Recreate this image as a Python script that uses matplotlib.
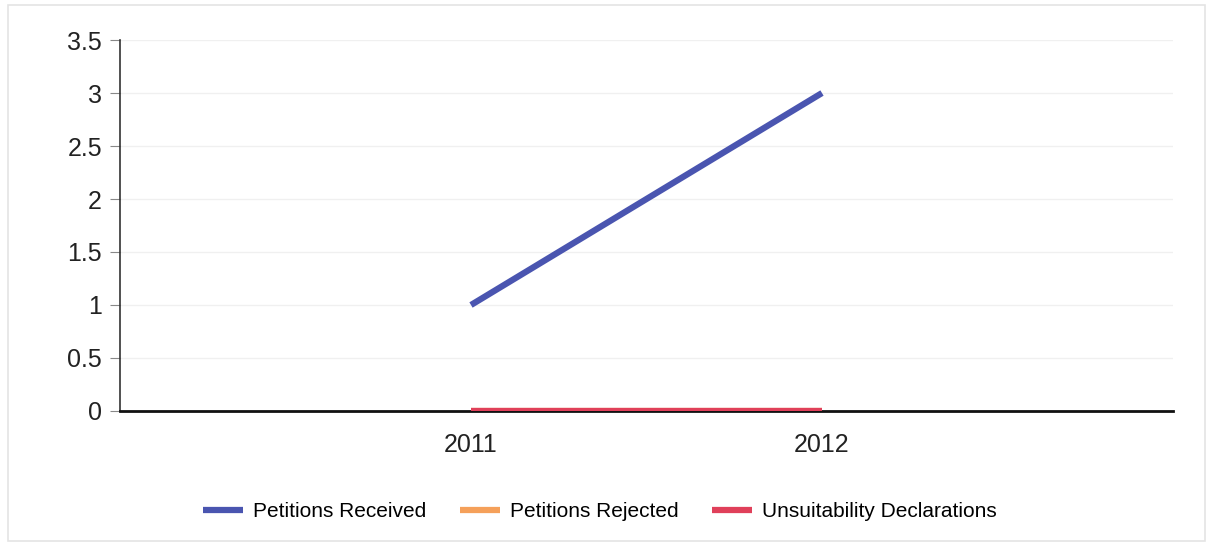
import matplotlib.pyplot as plt
from matplotlib.patches import Rectangle

plt.rcParams['font.family'] = ['Liberation Sans', 'DejaVu Sans']

years = ["2011", "2012"]
received = [1, 3]
rejected = [0, 0]
unsuitable = [0, 0]

fig = plt.figure(figsize=(12.11, 5.46), dpi=100)
ax = fig.add_axes([0.0991, 0.2473, 0.8695, 0.6794])

# faint frame around the whole chart area
fig.patches.append(Rectangle((0.007, 0.01), 0.988, 0.98, transform=fig.transFigure,
                             fill=False, edgecolor='#e4e4e4', linewidth=1.2))

xs = range(len(years))
ax.plot(xs, received, color='#4a55b0', linewidth=4.5, solid_capstyle='butt',
        label='Petitions Received', zorder=3)
ax.plot(xs, rejected, color='#f5a05a', linewidth=4.5, solid_capstyle='butt',
        label='Petitions Rejected', zorder=3)
ax.plot(xs, unsuitable, color='#e0405a', linewidth=4.5, solid_capstyle='butt',
        label='Unsuitability Declarations', zorder=4)

ax.set_xlim(-1, 2)
ax.set_ylim(0, 3.5)
ax.set_xticks(list(xs))
ax.set_xticklabels(years)
ax.set_yticks([0, 0.5, 1, 1.5, 2, 2.5, 3, 3.5])
ax.set_yticklabels(['0', '0.5', '1', '1.5', '2', '2.5', '3', '3.5'])
ax.tick_params(axis='x', length=0, labelsize=18, pad=16, colors='#222222')
ax.tick_params(axis='y', length=7, width=0.8, color='#888888', labelsize=18,
               pad=6, labelcolor='#222222')

ax.grid(axis='y', color='#f0f0f0', linewidth=1)
ax.set_axisbelow(True)
for side in ['top', 'right']:
    ax.spines[side].set_visible(False)
ax.spines['left'].set_color('#333333')
ax.spines['left'].set_linewidth(1.2)
ax.spines['bottom'].set_color('#111111')
ax.spines['bottom'].set_linewidth(2)

leg = fig.legend(loc='center', bbox_to_anchor=(0.4955, 0.063), ncol=3, frameon=False,
                 fontsize=15, handlelength=1.9, handletextpad=0.5, columnspacing=1.6)

plt.savefig('out.png', dpi=100, facecolor='white')
